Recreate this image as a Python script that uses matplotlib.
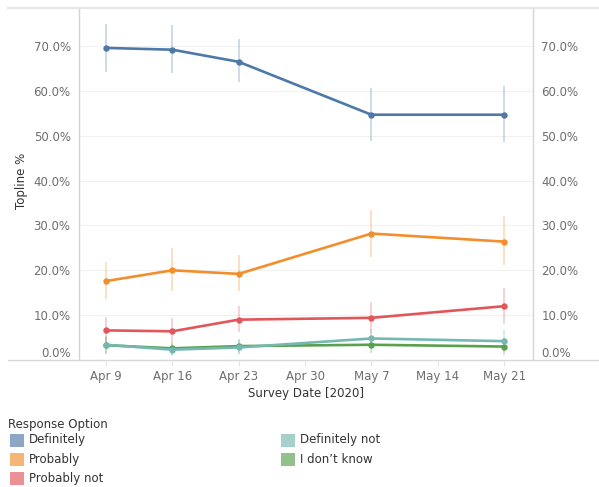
import datetime as dt
import matplotlib
matplotlib.use('Agg')
import matplotlib.pyplot as plt
import matplotlib.dates as mdates
from matplotlib.lines import Line2D
from matplotlib.patches import Rectangle
from matplotlib.ticker import FuncFormatter

# 数据（从图上读出的百分比）
dates = [dt.datetime(2020, 4, 9), dt.datetime(2020, 4, 16), dt.datetime(2020, 4, 23),
         dt.datetime(2020, 5, 7), dt.datetime(2020, 5, 21)]
tick_dates = [dt.datetime(2020, 4, 9) + dt.timedelta(days=7 * i) for i in range(7)]

names = ['Definitely', 'Probably', 'Probably not', 'Definitely not', 'I don\u2019t know']
colors = ['#4e79a7', '#f28e2b', '#e15759', '#76b7b2', '#59a14f']

definitely = [69.6, 69.2, 66.5, 54.7, 54.7]
definitely_lo = [64.3, 63.9, 61.9, 48.9, 48.7]
definitely_hi = [75.0, 74.7, 71.5, 60.6, 61.1]

probably = [17.6, 20.0, 19.2, 28.2, 26.4]
probably_lo = [13.5, 15.4, 15.4, 23.0, 21.2]
probably_hi = [21.9, 24.9, 23.4, 33.4, 32.1]

probably_not = [6.6, 6.4, 9.0, 9.4, 12.0]
probably_not_lo = [4.0, 4.0, 6.3, 5.9, 8.1]
probably_not_hi = [9.6, 9.3, 12.0, 13.0, 16.0]

definitely_not = [3.4, 2.3, 2.8, 4.8, 4.2]
definitely_not_lo = [1.5, 0.8, 1.2, 2.7, 1.8]
definitely_not_hi = [5.3, 3.8, 4.4, 6.9, 6.8]

dont_know = [3.3, 2.6, 3.1, 3.4, 3.0]
dont_know_lo = [1.4, 1.1, 1.5, 1.5, 1.2]
dont_know_hi = [5.2, 4.1, 4.7, 5.3, 4.8]

series = [
    (definitely, definitely_lo, definitely_hi),
    (probably, probably_lo, probably_hi),
    (probably_not, probably_not_lo, probably_not_hi),
    (dont_know, dont_know_lo, dont_know_hi),
    (definitely_not, definitely_not_lo, definitely_not_hi),
]
series_colors = [colors[0], colors[1], colors[2], colors[4], colors[3]]

W, H = 599, 487
fig = plt.figure(figsize=(W / 100, H / 100), dpi=100)
ax = fig.add_axes([79 / W, (H - 360) / H, (533 - 79) / W, (360 - 8) / H])

# 误差线 + 折线
for (vals, lo, hi), c in zip(series, series_colors):
    ax.vlines(dates, lo, hi, color=c, alpha=0.35, linewidth=1.1, zorder=2)
for (vals, lo, hi), c in zip(series, series_colors):
    ax.plot(dates, vals, color=c, linewidth=1.9, marker='o', markersize=3.6, zorder=3)

ax.set_ylim(0, 78.5)
ax.set_xlim(dt.datetime(2020, 4, 9) - dt.timedelta(days=2.85),
            dt.datetime(2020, 5, 21) + dt.timedelta(days=3.05))
ax.set_yticks([0, 10, 20, 30, 40, 50, 60, 70])
ax.yaxis.set_major_formatter(FuncFormatter(lambda v, p: f'{v:.1f}%'))
ax.set_xticks(tick_dates)
ax.xaxis.set_major_formatter(mdates.DateFormatter('%b %-d'))

ax.grid(axis='y', color='#f0f0f0', linewidth=0.8)
ax.set_axisbelow(True)
for s in ['top', 'bottom']:
    ax.spines[s].set_visible(False)
for s in ['left', 'right']:
    ax.spines[s].set_color('#d4d4d4')
    ax.spines[s].set_linewidth(1)

ax.tick_params(axis='y', length=0, pad=6, labelsize=8.5, labelcolor='#6e6e6e',
               labelleft=True, labelright=True)
ax.tick_params(axis='x', length=4, color='#e6e6e6', pad=3, labelsize=8.5, labelcolor='#6e6e6e')
t0 = ax.yaxis.get_major_ticks()[0]
t0.label1.set_va('bottom')
t0.label2.set_va('bottom')

ax.set_xlabel('Survey Date [2020]', fontsize=8.5, color='#333333')
ax.set_ylabel('Topline %', fontsize=8.5, color='#333333')
ax.xaxis.set_label_coords(0.5, -(393.7 - 360) / 352, transform=ax.transAxes)
ax.xaxis.label.set_va('center')
ax.yaxis.set_label_coords(-(79 - 22) / 454, 0.51, transform=ax.transAxes)
ax.yaxis.label.set_va('center')

# 顶部和底部的横线
fig.add_artist(Line2D([8 / W, 1], [1 - 8 / H, 1 - 8 / H], color='#e6e6e6', linewidth=1.6))
fig.add_artist(Line2D([8 / W, 1], [(H - 359.5) / H, (H - 359.5) / H], color='#d9d9d9', linewidth=1))

# 图例
fig.text(8 / W, 1 - 424.3 / H, 'Response Option', fontsize=8.5, color='#333333', va='center')
legend_pos = [(10, 440), (10, 459.3), (10, 478.3), (281, 440), (281, 459.3)]
for (x, y), name, c in zip(legend_pos, names, colors):
    fig.add_artist(Rectangle((x / W, (H - y - 6.5) / H), 14 / W, 13 / H,
                             facecolor=c, alpha=0.65, edgecolor='none'))
    fig.text((x + 19) / W, 1 - y / H, name, fontsize=8.5, color='#333333', va='center')

fig.savefig('out.png', dpi=100)
